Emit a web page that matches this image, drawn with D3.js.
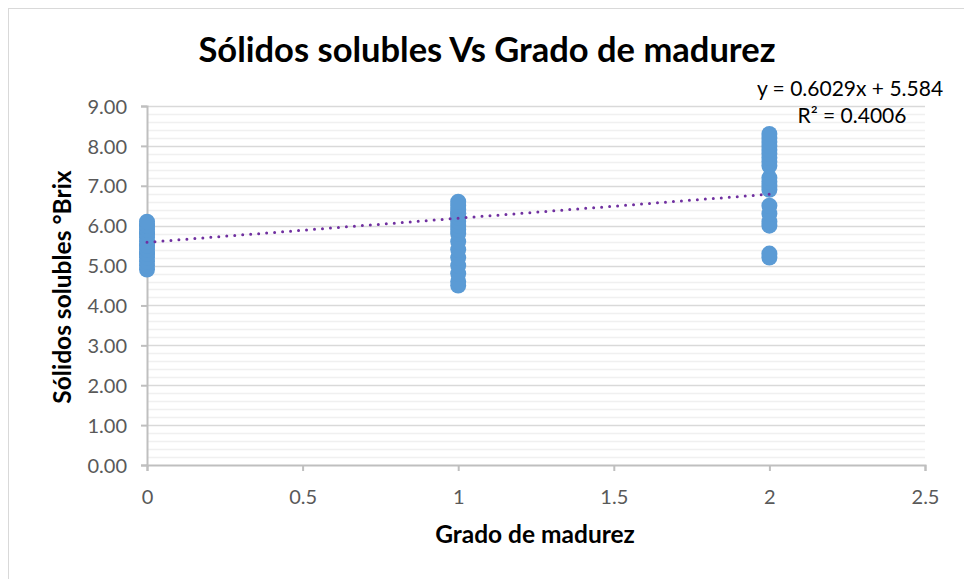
<!DOCTYPE html>
<html>
<head>
<meta charset="utf-8">
<script src="https://cdnjs.cloudflare.com/ajax/libs/d3/7.8.5/d3.min.js"></script>
<style>
  body { margin: 0; background: #fff; }
  svg { display: block; font-family: Lato, "Open Sans", sans-serif; }
</style>
</head>
<body>
<svg id="chart" width="964" height="579"></svg>
<script>
// grado de madurez (x) and sólidos solubles °Brix (y)
const grade0 = [4.9, 5.0, 5.1, 5.2, 5.3, 5.3, 5.4, 5.5, 5.5, 5.6, 5.7, 5.8, 5.8, 5.9, 6.0, 6.0, 6.1];
const grade1 = [4.5, 4.6, 4.8, 5.0, 5.2, 5.4, 5.6, 5.8, 5.9, 6.0, 6.1, 6.2, 6.3, 6.3, 6.4, 6.5, 6.6];
const grade2 = [5.2, 5.3, 6.0, 6.1, 6.3, 6.5, 6.9, 7.0, 7.1, 7.2, 7.5, 7.6, 7.7, 7.8, 7.9, 8.0, 8.1, 8.2, 8.3];
const xTicks = [0, 0.5, 1, 1.5, 2, 2.5];
const yTicks = [0, 1, 2, 3, 4, 5, 6, 7, 8, 9];
const trend = { slope: 0.6029, intercept: 5.584, r2: 0.4006, from: 0, to: 2 };

const points = [
  ...grade0.map(v => ({ x: 0, y: v })),
  ...grade1.map(v => ({ x: 1, y: v })),
  ...grade2.map(v => ({ x: 2, y: v }))
];

const $svg = d3.select('#chart');
const margin = { left: 147, right: 39, top: 106, bottom: 114 };
const width = 964 - margin.left - margin.right;
const height = 579 - margin.top - margin.bottom;

// outer chart frame
$svg.append('rect')
  .attr('x', 8.5).attr('y', 8.5)
  .attr('width', 970).attr('height', 600)
  .attr('fill', '#fff')
  .attr('stroke', '#d9d9d9');

const x = d3.scaleLinear().domain([0, 2.5]).range([0, width]);
const y = d3.scaleLinear().domain([0, 9]).range([height, 0]);

const $g = $svg.append('g').attr('transform', `translate(${margin.left},${margin.top})`);

// minor gridlines every 0.2
const minor = d3.range(0, 9.001, 0.2).filter(v => Math.abs(v - Math.round(v)) > 0.01);
$g.append('g').selectAll('line')
  .data(minor).enter().append('line')
  .attr('x1', 0).attr('x2', width)
  .attr('y1', d => Math.round(y(d)) + 0.5).attr('y2', d => Math.round(y(d)) + 0.5)
  .attr('stroke', '#f0f0f0').attr('stroke-width', 1.5);

// major gridlines
$g.append('g').selectAll('line')
  .data(yTicks.filter(d => d > 0)).enter().append('line')
  .attr('x1', 0).attr('x2', width)
  .attr('y1', d => Math.round(y(d)) + 0.5).attr('y2', d => Math.round(y(d)) + 0.5)
  .attr('stroke', '#d9d9d9').attr('stroke-width', 1.5);

// axes
const yAxis = d3.axisLeft(y).tickValues(yTicks).tickFormat(d3.format('.2f')).tickSize(6).tickPadding(14);
const xAxis = d3.axisBottom(x).tickValues(xTicks).tickFormat(d => d).tickSize(6).tickPadding(19);

const $yAxis = $g.append('g').call(yAxis);
const $xAxis = $g.append('g').attr('transform', `translate(0,${height})`).call(xAxis);

[$yAxis, $xAxis].forEach($a => {
  $a.select('.domain').attr('stroke', '#bfbfbf').attr('stroke-width', 2);
  $a.selectAll('.tick line').attr('stroke', '#bfbfbf').attr('stroke-width', 2);
  $a.selectAll('.tick text')
    .attr('fill', '#595959')
    .style('font-size', '20px')
    .style('font-family', 'Lato, sans-serif');
});
$yAxis.selectAll('.tick text').attr('dy', '0.36em');
$xAxis.selectAll('.tick text').attr('dy', '0.72em');

// points
$g.append('g').selectAll('circle')
  .data(points).enter().append('circle')
  .attr('cx', d => x(d.x))
  .attr('cy', d => y(d.y))
  .attr('r', 8)
  .attr('fill', '#5b9bd5');

// linear trendline
$g.append('line')
  .attr('x1', x(trend.from)).attr('y1', y(trend.intercept + trend.slope * trend.from))
  .attr('x2', x(trend.to)).attr('y2', y(trend.intercept + trend.slope * trend.to))
  .attr('stroke', '#7030a0')
  .attr('stroke-width', 3)
  .attr('stroke-linecap', 'round')
  .attr('stroke-dasharray', '0 8');

// trendline label
$svg.append('text')
  .attr('x', 850).attr('y', 96)
  .attr('text-anchor', 'middle')
  .style('font-size', '21px')
  .attr('fill', '#000')
  .text(`y = ${trend.slope}x + ${trend.intercept}`);
$svg.append('text')
  .attr('x', 852).attr('y', 123)
  .attr('text-anchor', 'middle')
  .style('font-size', '21px')
  .attr('fill', '#000')
  .text(`R² = ${trend.r2}`);

// titles
$svg.append('text')
  .attr('x', 487).attr('y', 62)
  .attr('text-anchor', 'middle')
  .style('font-size', '34.5px')
  .style('font-weight', 'bold')
  .text('Sólidos solubles Vs Grado de madurez');

$svg.append('text')
  .attr('x', 535).attr('y', 543)
  .attr('text-anchor', 'middle')
  .style('font-size', '24.5px')
  .style('font-weight', 'bold')
  .text('Grado de madurez');

$svg.append('text')
  .attr('transform', 'translate(71,287) rotate(-90)')
  .attr('text-anchor', 'middle')
  .style('font-size', '24.5px')
  .style('font-weight', 'bold')
  .text('Sólidos solubles °Brix');
</script>
</body>
</html>
